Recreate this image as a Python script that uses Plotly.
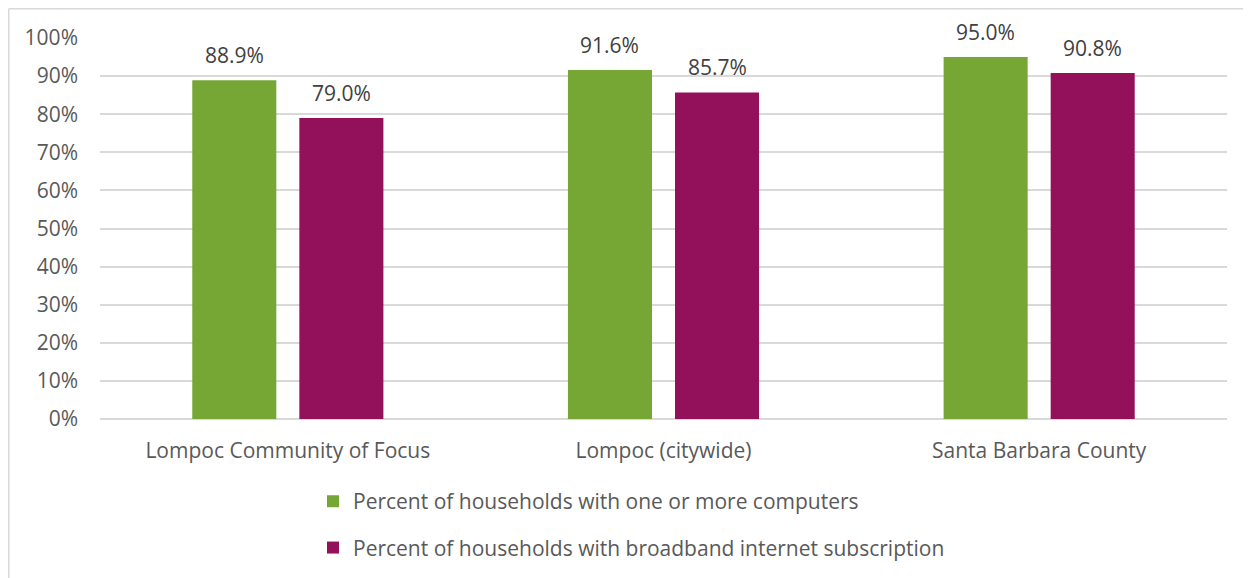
import plotly.graph_objects as go

categories = ["Lompoc Community of Focus", "Lompoc (citywide)", "Santa Barbara County"]
computers = [88.9, 91.6, 95.0]
broadband = [79.0, 85.7, 90.8]
series_names = ["Percent of households with one or more computers",
                "Percent of households with broadband internet subscription"]
tick_vals = list(range(0, 101, 10))
tick_text = [f"{v}%" for v in tick_vals]

FONT = "Open Sans"
TXT = "#595959"
LBL = "#404040"
FS = 21
W, H = 1243, 570
ML, MR, MT, MB = 92, 24, 30, 159
BARGAP, GROUPGAP = 0.43, 0.215

fig = go.Figure()
fig.add_trace(go.Bar(x=categories, y=computers, name=series_names[0],
                     marker=dict(color="#76A634", line=dict(width=0)),
                     legendgroup="a"))
fig.add_trace(go.Bar(x=categories, y=broadband, name=series_names[1],
                     marker=dict(color="#93115A", line=dict(width=0)),
                     legendgroup="b"))

pw = W - ML - MR
ph = H - MT - MB
# data labels centred above each bar (offset derived from bar layout)
slot = pw / len(categories) * (1 - BARGAP) / 2
for vals, sign in ((computers, -1), (broadband, 1)):
    for c, v in zip(categories, vals):
        fig.add_annotation(x=c, y=v, xref="x", yref="y", text=f"{v:.1f}%",
                           showarrow=False, xshift=sign * slot / 2, yshift=9,
                           yanchor="bottom", font=dict(family=FONT, size=FS, color=LBL))

bx = 0.75 / pw - ML / pw
by = 1 + (MT - 0.75) / ph
fig.add_shape(type="line", xref="paper", yref="paper", x0=bx, x1=bx, y0=-2, y1=by,
              line=dict(color="#D9D9D9", width=1.5))
fig.add_shape(type="line", xref="paper", yref="paper", x0=bx, x1=2, y0=by, y1=by,
              line=dict(color="#D9D9D9", width=1.5))

fig.update_layout(
    width=W, height=H,
    margin=dict(l=ML, r=MR, t=MT, b=MB, pad=0, autoexpand=False),
    paper_bgcolor="white", plot_bgcolor="white",
    font=dict(family=FONT, color=TXT, size=FS),
    barmode="group", bargap=BARGAP, bargroupgap=GROUPGAP,
    showlegend=True,
    legend=dict(orientation="v", x=0.189, xanchor="left", y=-0.163, yanchor="top",
                font=dict(family=FONT, size=FS, color=TXT),
                tracegroupgap=16, traceorder="grouped", itemwidth=30),
    xaxis=dict(showline=False, ticks="", ticklabelstandoff=17,
               tickfont=dict(family=FONT, size=FS, color=TXT)),
    yaxis=dict(range=[0, 100], tickvals=tick_vals, ticktext=tick_text,
               showgrid=True, gridcolor="#D9D9D9", gridwidth=1.5,
               zeroline=True, zerolinecolor="#D9D9D9", zerolinewidth=1.5,
               ticks="", ticklen=0, ticklabelstandoff=21,
               tickfont=dict(family=FONT, size=FS, color=TXT)),
)
fig.write_html("out.html")
